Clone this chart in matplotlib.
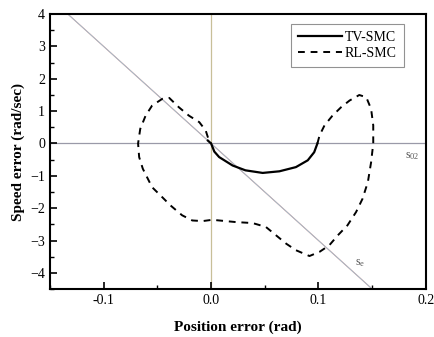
import matplotlib
matplotlib.use("Agg")
import matplotlib.pyplot as plt
import numpy as np

# TV-SMC trajectory (solid)
tv_x = [-0.003, 0.0, 0.003, 0.0075, 0.020, 0.032, 0.048, 0.0636, 0.079, 0.090, 0.096, 0.099]
tv_y = [0.09, 0.0, -0.25, -0.42, -0.68, -0.83, -0.91, -0.86, -0.73, -0.52, -0.27, 0.0]

# RL-SMC trajectory (dashed)
rl_x = [0.099, 0.101, 0.1056, 0.113, 0.121, 0.129, 0.138, 0.1445, 0.149, 0.151, 0.151,
        0.149, 0.146, 0.141, 0.135, 0.127, 0.118, 0.110, 0.101, 0.0916, 0.079, 0.070,
        0.0605, 0.051, 0.0386, 0.023, 0.0075, 0.001, -0.008, -0.0175, -0.027, -0.038,
        -0.0455, -0.055, -0.0636, -0.067, -0.068, -0.066, -0.061, -0.055, -0.0455,
        -0.039, -0.030, -0.0206, -0.011, -0.005, -0.002, 0.0]
rl_y = [0.0, 0.25, 0.56, 0.86, 1.12, 1.33, 1.50, 1.43, 1.07, 0.56, 0.0,
        -0.58, -1.19, -1.71, -2.12, -2.53, -2.84, -3.15, -3.35, -3.48, -3.30, -3.10,
        -2.84, -2.58, -2.46, -2.43, -2.38, -2.36, -2.40, -2.38, -2.22, -1.91,
        -1.66, -1.35, -0.78, -0.42, 0.0, 0.45, 0.86, 1.17, 1.38,
        1.41, 1.12, 0.86, 0.66, 0.40, 0.09, 0.0]

# sliding surface s = e_dot + c*e
c_slope = 30.0
s_x = [-0.15, 0.2]

plt.rcParams['font.family'] = ['Liberation Serif', 'DejaVu Serif']

fig = plt.figure(figsize=(4.35, 3.37), dpi=100)
ax = fig.add_axes([0.115, 0.1424, 0.864, 0.8156])

ax.axhline(0, color='#9a9aa8', lw=0.9, zorder=1)
ax.axvline(0, color='#c8bf98', lw=0.9, zorder=1)
sx = np.array(s_x)
ax.plot(sx, -c_slope * sx, color='#e09090', lw=0.8, zorder=2)
ax.plot(sx, -c_slope * sx, color='#90c8d8', lw=0.5, zorder=2)

ax.plot(rl_x, rl_y, color='black', lw=1.4, ls=(0, (3.5, 3)), label='RL-SMC', zorder=3)
ax.plot(tv_x, tv_y, color='black', lw=1.6, label='TV-SMC', zorder=4)

ax.text(0.181, -0.45, r'$\mathregular{s_{02}}$', fontsize=8.5, color='#555555')
ax.text(0.134, -3.75, r'$\mathregular{s_{e}}$', fontsize=8.5, color='#555555')

ax.set_xlim(-0.15, 0.2)
ax.set_ylim(-4.5, 4)
ax.set_xticks([-0.1, 0.0, 0.1, 0.2])
ax.set_xticklabels(['-0.1', '0.0', '0.1', '0.2'])
ax.set_yticks([-4, -3, -2, -1, 0, 1, 2, 3, 4])
ax.set_xticks(np.arange(-0.15, 0.2, 0.05), minor=True)
ax.set_yticks(np.arange(-4.5, 4.01, 0.5), minor=True)
ax.tick_params(which='major', direction='in', length=5, width=1.2, labelsize=10,
               top=False, right=False)
ax.tick_params(which='minor', direction='in', length=3, width=1.0, top=False, right=False)
for sp in ax.spines.values():
    sp.set_linewidth(1.5)

ax.set_xlabel('Position error (rad)', fontsize=11, fontweight='bold', labelpad=10)
ax.set_ylabel('Speed error (rad/sec)', fontsize=11, fontweight='bold', labelpad=4)

h, l = ax.get_legend_handles_labels()
leg = ax.legend(h[::-1], l[::-1], loc='upper right', bbox_to_anchor=(0.941, 0.964),
                borderaxespad=0.0,
                fontsize=10, frameon=True, fancybox=False, edgecolor='#777777',
                handlelength=3.2, handletextpad=0.2, borderpad=0.5, labelspacing=0.2)
leg.get_frame().set_linewidth(0.8)

fig.savefig('out.png', dpi=100)
